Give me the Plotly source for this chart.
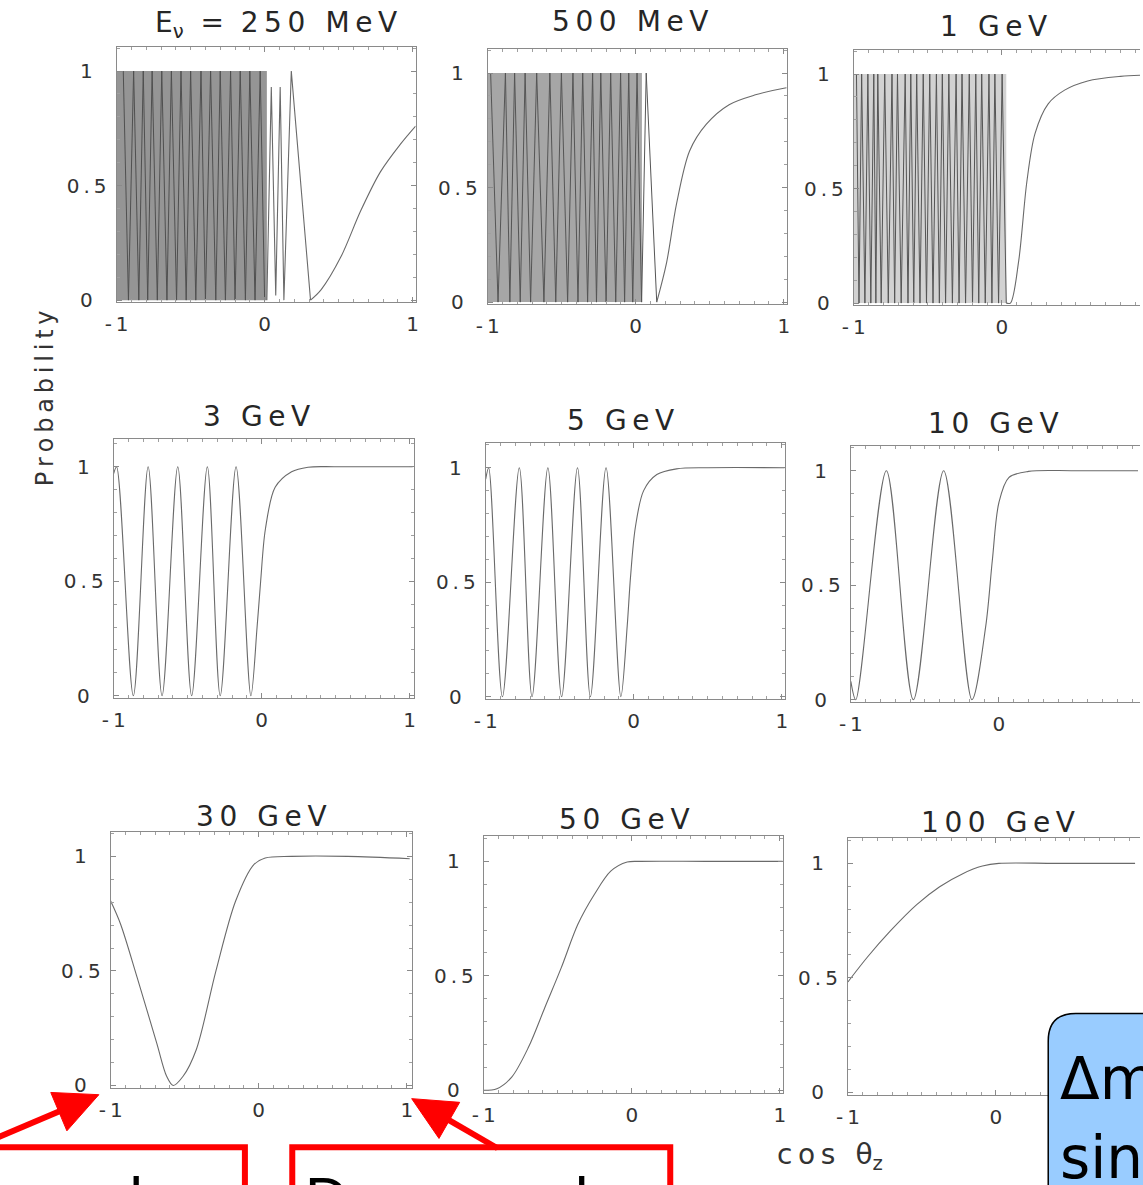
import math
import plotly.graph_objects as go

# ---------------------------------------------------------------- data
cos_ticks = [-1, 0, 1]
prob_ticks = [0, 0.5, 1]
energy_labels = ["250 MeV", "500 MeV", "1 GeV", "3 GeV", "5 GeV",
                 "10 GeV", "30 GeV", "50 GeV", "100 GeV"]

# fringes of the fast oscillation always swing between these limits
fringe_top = 1.0
fringe_floor = 0.0

# 250 MeV: unresolved fast oscillation band, visible fringes, last slow swing
mev250_band_end = 0.015
mev250_peaks = [-0.955, -0.885, -0.82, -0.76, -0.695, -0.63, -0.565, -0.5,
                -0.43, -0.365, -0.3, -0.23, -0.165, -0.1, -0.03]
mev250_troughs = [-0.92, -0.85, -0.79, -0.725, -0.66, -0.595, -0.53, -0.465,
                  -0.4, -0.33, -0.265, -0.2, -0.13, -0.065, 0.0]
mev250_tail_x = [0.015, 0.045, 0.075, 0.105, 0.13, 0.18, 0.31]
mev250_tail_y = [0.0, 0.93, 0.02, 0.93, 0.0, 1.0, 0.0]
mev250_rise_x = [0.31, 0.382, 0.516, 0.649, 0.782, 0.916, 1.02]
mev250_rise_y = [0.0, 0.046, 0.19, 0.39, 0.56, 0.68, 0.76]

# 500 MeV
mev500_band_end = 0.042
mev500_peaks = [-0.98, -0.88, -0.818, -0.747, -0.669, -0.58, -0.502, -0.424,
                -0.358, -0.291, -0.236, -0.169, -0.102, -0.047, 0.009, 0.071]
mev500_troughs = [-0.93, -0.85, -0.78, -0.71, -0.62, -0.54, -0.46, -0.39,
                  -0.325, -0.265, -0.2, -0.135, -0.075, -0.02, 0.04, 0.142]
mev500_rise_x = [0.142, 0.209, 0.276, 0.364, 0.476, 0.631, 0.809, 1.009, 1.02]
mev500_rise_y = [0.0, 0.174, 0.43, 0.66, 0.776, 0.862, 0.905, 0.935, 0.936]

# 1 GeV
gev1_band_end = 0.03
gev1_peaks = [-0.982, -0.947, -0.905, -0.865, -0.838, -0.791, -0.742, -0.705,
              -0.653, -0.615, -0.575, -0.531, -0.487, -0.442, -0.402, -0.358,
              -0.309, -0.269, -0.22, -0.176, -0.136, -0.087, -0.047, 0.002]
gev1_troughs = [-0.965, -0.925, -0.885, -0.851, -0.815, -0.767, -0.724, -0.68,
                -0.634, -0.595, -0.553, -0.509, -0.465, -0.422, -0.38, -0.334,
                -0.289, -0.245, -0.198, -0.156, -0.112, -0.067, -0.022, 0.03]
gev1_rise_x = [0.03, 0.058, 0.113, 0.169, 0.224, 0.313, 0.424, 0.58, 0.802, 0.94]
gev1_rise_y = [0.0, 0.0, 0.18, 0.53, 0.74, 0.87, 0.93, 0.97, 0.99, 0.995]

# 3 GeV
gev3_x = [-1.0, -0.98, -0.867, -0.767, -0.673, -0.567, -0.473, -0.367, -0.28,
          -0.173, -0.073, -0.031, -0.007, 0.025, 0.091, 0.202, 0.313, 0.5, 1.02]
gev3_y = [0.97, 1.0, 0.0, 1.0, 0.0, 1.0, 0.0, 1.0, 0.0,
          1.0, 0.0, 0.30, 0.5, 0.727, 0.91, 0.978, 0.998, 1.0, 1.0]

# 5 GeV
gev5_x = [-1.0, -0.98, -0.887, -0.773, -0.687, -0.58, -0.487, -0.38, -0.293,
          -0.187, -0.087, -0.044, -0.022, 0.011, 0.067, 0.156, 0.289, 0.5, 1.02]
gev5_y = [0.95, 1.0, 0.0, 1.0, 0.0, 1.0, 0.0, 1.0, 0.0,
          1.0, 0.0, 0.31, 0.52, 0.74, 0.90, 0.97, 0.995, 1.0, 1.0]

# 10 GeV
gev10_x = [-1.0, -0.967, -0.76, -0.578, -0.373, -0.182, -0.089, -0.044, 0.0,
           0.067, 0.2, 0.5, 0.94]
gev10_y = [0.08, 0.0, 1.0, 0.0, 1.0, 0.0, 0.32, 0.61, 0.86,
           0.97, 0.997, 1.0, 1.0]

# 30 GeV
gev30_x = [-1.0, -0.933, -0.822, -0.689, -0.622, -0.578, -0.511, -0.422, -0.289,
           -0.156, -0.033, 0.044, 0.22, 0.6, 1.02]
gev30_y = [0.805, 0.704, 0.473, 0.185, 0.04, 0.0, 0.04, 0.156, 0.50,
           0.805, 0.964, 0.993, 1.0, 1.0, 0.99]

# 50 GeV
gev50_x = [-1.0, -0.911, -0.811, -0.698, -0.587, -0.476, -0.364, -0.253,
           -0.142, -0.031, 0.058, 0.5, 1.02]
gev50_y = [0.0, 0.007, 0.058, 0.188, 0.362, 0.536, 0.725, 0.855,
           0.957, 0.997, 1.0, 1.0, 1.0]

# 100 GeV
gev100_x = [-1.0, -0.869, -0.713, -0.535, -0.38, -0.224, -0.091, 0.02, 0.4, 0.94]
gev100_y = [0.482, 0.59, 0.705, 0.82, 0.898, 0.955, 0.988, 1.0, 1.0, 1.0]

# ---------------------------------------------------------------- layout
W, H = 1143, 1185
X_SCALE = 150.0   # pixels per unit of cos(theta_z)
Y_SCALE = 231.0   # pixels per unit of probability
THIN = "\u2009"
EN = "\u2002"

# plot boxes in page pixels: left, top, right, bottom
frames = [
    (106, 47, 409, 305), (482, 49, 785, 307), (853, 50, 1143, 308),
    (103, 443, 407, 704), (480, 447, 783, 705), (850, 450, 1143, 708),
    (100, 839, 405, 1097), (478, 843, 781, 1102), (847, 845, 1143, 1104),
]
title_centres = [(268, 25), (626, 22), (995, 27), (248, 420), (617, 424),
                 (995, 427), (253, 823), (621, 826), (999, 829)]

CURVE = "#6a6a6a"
AXIS = "#8a8a8a"
TEXT = "#333333"
FONT = "DejaVu Sans"
RED = "#ff0000"


def spaced(s):
    return THIN.join(s)


def px(x, y):
    return x / W, 1 - y / H


def refs(i):
    s = "" if i == 1 else str(i)
    return "x" + s, "y" + s


def interleave(a, b):
    out = []
    for p, q in zip(a, b):
        out += [p, q]
    return out


fig = go.Figure()


def add_line(i, xs, ys, shape="spline", color=CURVE, width=1.1):
    xr, yr = refs(i)
    fig.add_trace(go.Scatter(
        x=xs, y=ys, mode="lines", xaxis=xr, yaxis=yr,
        line=dict(color=color, width=width, shape=shape, smoothing=0.9),
        hoverinfo="skip", showlegend=False))


def add_band(i, end, color):
    xr, yr = refs(i)
    fig.add_trace(go.Scatter(
        x=[-1, end, end, -1], y=[fringe_floor, fringe_floor, fringe_top, fringe_top],
        mode="lines", fill="toself", fillcolor=color, line=dict(width=0),
        xaxis=xr, yaxis=yr, hoverinfo="skip", showlegend=False))


def add_fringes(i, peaks, troughs, color, width=1.0):
    xs = interleave(peaks, troughs)
    ys = interleave([fringe_top] * len(peaks), [fringe_floor] * len(troughs))
    add_line(i, xs, ys, shape="linear", color=color, width=width)


# 250 MeV
add_band(1, mev250_band_end, "#959595")
add_fringes(1, mev250_peaks, mev250_troughs, "#505050")
add_line(1, mev250_tail_x, mev250_tail_y, shape="linear")
add_line(1, mev250_rise_x, mev250_rise_y)
# 500 MeV
add_band(2, mev500_band_end, "#a6a6a6")
add_fringes(2, mev500_peaks, mev500_troughs, "#555555")
add_line(2, mev500_rise_x, mev500_rise_y)
# 1 GeV
add_band(3, gev1_band_end, "#d2d2d2")
add_fringes(3, gev1_peaks, gev1_troughs, "#555555")
add_line(3, gev1_rise_x, gev1_rise_y)
# smooth panels
add_line(4, gev3_x, gev3_y)
add_line(5, gev5_x, gev5_y)
add_line(6, gev10_x, gev10_y)
add_line(7, gev30_x, gev30_y)
add_line(8, gev50_x, gev50_y)
add_line(9, gev100_x, gev100_y)

axis_style = dict(
    showgrid=False, zeroline=False, showline=True, linecolor=AXIS, linewidth=1,
    ticks="inside", ticklen=5, tickcolor=AXIS, tickwidth=1, fixedrange=True,
    tickfont=dict(family=FONT, size=20, color=TEXT),
)
minor_style = dict(tickmode="linear", tick0=0, dtick=0.1, ticks="inside",
                   ticklen=3, tickcolor="#a0a0a0", tickwidth=1)

y_text = {0: "0" + EN + THIN, 0.5: spaced("0.5"), 1: "1" + EN + THIN}

axes = {}
for i, (l, t, r, b) in enumerate(frames, start=1):
    s = "" if i == 1 else str(i)
    runs_off_page = r >= W
    axes["xaxis" + s] = dict(
        domain=[l / W, r / W], range=[-1, -1 + (r - l) / X_SCALE], anchor="y" + s,
        tickmode="array", tickvals=cos_ticks,
        ticktext=[spaced(f"{v:g}") for v in cos_ticks],
        mirror="ticks", ticklabelstandoff=4, minor=minor_style, **axis_style)
    axes["yaxis" + s] = dict(
        domain=[1 - b / H, 1 - t / H], range=[-0.01, -0.01 + (b - t) / Y_SCALE],
        anchor="x" + s, tickmode="array", tickvals=prob_ticks,
        ticktext=[y_text[v] for v in prob_ticks],
        mirror=False if runs_off_page else "ticks", ticklabelstandoff=5,
        minor=minor_style, **axis_style)

annotations = []
for i, (label, (cx, cy)) in enumerate(zip(energy_labels, title_centres)):
    text = spaced(label)
    if i == 0:
        text = "E<sub>ν</sub>" + THIN * 3 + "=" + THIN * 3 + spaced(label)
    x, y = px(cx, cy)
    annotations.append(dict(x=x, y=y, xref="paper", yref="paper", text=text,
                            showarrow=False, xanchor="center", yanchor="middle",
                            font=dict(family=FONT, size=28, color="#262626")))

x, y = px(33, 402)
annotations.append(dict(x=x, y=y, xref="paper", yref="paper", text=spaced("Probability"),
                        textangle=-90, showarrow=False, xanchor="center", yanchor="middle",
                        font=dict(family=FONT, size=24, color=TEXT)))
x, y = px(829, 1166)
annotations.append(dict(x=x, y=y, xref="paper", yref="paper",
                        text=spaced("cos") + THIN * 2 + " θ<sub>z</sub>",
                        showarrow=False, xanchor="center", yanchor="middle",
                        font=dict(family=FONT, size=28, color=TEXT)))

# call-out labels (only their upper edge is on the page)
for label, lx in [("Upward", -79), ("Downward", 295)]:
    x, y = px(lx, 1173)
    annotations.append(dict(x=x, y=y, xref="paper", yref="paper", text=label,
                            showarrow=False, xanchor="left", yanchor="top",
                            font=dict(family="Liberation Sans", size=60, color="black")))

for label, ty in [("Δm² = 2.5×10⁻³ eV²", 1052), ("sin²2θ = 1.0", 1132)]:
    x, y = px(1060, ty)
    annotations.append(dict(x=x, y=y, xref="paper", yref="paper", text=label,
                            showarrow=False, xanchor="left", yanchor="top",
                            font=dict(family=FONT, size=58, color="black")))

shapes = []
for l, r in [(-92, 236), (284, 667)]:
    x0, y0 = px(l, 1157)
    x1, y1 = px(r, 1260)
    shapes.append(dict(type="rect", xref="paper", yref="paper", x0=x0, x1=x1,
                       y0=y1, y1=y0, line=dict(color=RED, width=6),
                       fillcolor="rgba(0,0,0,0)"))


def P(xp, yp):
    a, b = px(xp, yp)
    return f"{a:.5f},{b:.5f}"


# red arrows from the call-out boxes to the ends of the cos(theta_z) axis
HEAD_LEN, HEAD_HALF = 44, 21
for (tx, ty), (sx, sy) in [((88, 1104), (-40, 1158)), ((405, 1108), (492, 1158))]:
    dx, dy = tx - sx, ty - sy
    n = math.hypot(dx, dy)
    ux, uy = dx / n, dy / n
    bx, by = tx - HEAD_LEN * ux, ty - HEAD_LEN * uy
    x0, y0 = px(sx, sy)
    x1, y1 = px(bx + 4 * ux, by + 4 * uy)
    shapes.append(dict(type="line", xref="paper", yref="paper", x0=x0, y0=y0,
                       x1=x1, y1=y1, line=dict(color=RED, width=6)))
    head = (f"M {P(tx, ty)} L {P(bx - HEAD_HALF * uy, by + HEAD_HALF * ux)} "
            f"L {P(bx + HEAD_HALF * uy, by - HEAD_HALF * ux)} Z")
    shapes.append(dict(type="path", xref="paper", yref="paper", path=head,
                       fillcolor=RED, line=dict(color=RED, width=1)))

# rounded parameter box in the lower right corner
bl, bt, br, bb, rad = 1050, 1022, 1220, 1260, 28
path = (f"M {P(bl, bt + rad)} Q {P(bl, bt)} {P(bl + rad, bt)} L {P(br, bt)} "
        f"L {P(br, bb)} L {P(bl, bb)} Z")
shapes.append(dict(type="path", xref="paper", yref="paper", path=path,
                   fillcolor="#99ccff", line=dict(color="black", width=1.5)))

fig.update_layout(
    width=W, height=H, margin=dict(l=0, r=0, t=0, b=0),
    paper_bgcolor="white", plot_bgcolor="white",
    annotations=annotations, shapes=shapes, showlegend=False, **axes)

fig.write_html("out.html", config={"displayModeBar": False})
